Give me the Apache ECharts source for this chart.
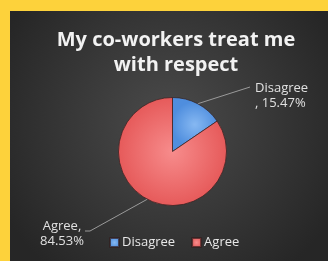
<!DOCTYPE html>
<html>
<head>
<meta charset="utf-8">
<script src="https://cdn.jsdelivr.net/npm/echarts@6/dist/echarts.min.js"></script>
<style>
  html, body { margin: 0; padding: 0; background: #fdd23b; }
  #chart { position: absolute; left: 10px; top: 11px; width: 318px; height: 250px; }
</style>
</head>
<body>
<div id="chart"></div>
<script>
var titleText = 'My co-workers treat me\nwith respect';
var categories = ['Disagree', 'Agree'];
var percents = [15.47, 84.53];
var sliceColors = [
  ['#86b8f2', '#4f8ede'],
  ['#f78c8c', '#e65a5a']
];
// where each label sits (layout only)
var labelSpots = [
  { x: 245, y: 70, align: 'left', end: [240, 76], mid: [240, 76] },
  { x: 52, y: 208, align: 'center', end: [75, 220], mid: [80, 220] }
];

var chart = echarts.init(document.getElementById('chart'));

var pieData = categories.map(function (name, i) {
  return {
    name: name,
    value: percents[i],
    itemStyle: {
      color: {
        type: 'radial', x: 0.5, y: 0.5, r: 0.5,
        colorStops: [
          { offset: 0, color: sliceColors[i][0] },
          { offset: 1, color: sliceColors[i][1] }
        ]
      }
    }
  };
});

var option = {
  backgroundColor: {
    type: 'radial', x: 0.5, y: 0.45, r: 0.75,
    colorStops: [
      { offset: 0, color: '#4b4b4b' },
      { offset: 1, color: '#262626' }
    ]
  },
  color: ['#5b9be8', '#ee6b6b'],
  title: {
    text: titleText,
    left: 161,
    top: 12,
    textAlign: 'center',
    textStyle: {
      color: '#f2f2f2',
      fontFamily: 'Open Sans',
      fontWeight: 'bold',
      fontSize: 20,
      lineHeight: 25
    }
  },
  legend: {
    data: categories,
    bottom: 7,
    left: 94,
    icon: 'rect',
    itemWidth: 9,
    itemHeight: 9,
    itemGap: 16,
    textStyle: {
      color: '#e8e8e8',
      fontFamily: 'Open Sans',
      fontSize: 13,
      padding: [0, 0, 0, -2]
    }
  },
  series: [{
    type: 'pie',
    center: [162.5, 140.5],
    radius: 54,
    startAngle: 90,
    clockwise: true,
    animation: false,
    data: pieData,
    itemStyle: {
      borderColor: 'rgba(50,30,30,0.7)',
      borderWidth: 1
    },
    label: {
      show: true,
      position: 'outside',
      color: '#e0e0e0',
      fontFamily: 'Open Sans',
      fontSize: 13,
      lineHeight: 15,
      formatter: function (p) {
        return p.dataIndex === 0
          ? p.name + '\n, ' + p.value.toFixed(2) + '%'
          : p.name + ',\n' + p.value.toFixed(2) + '%';
      }
    },
    labelLine: {
      show: true,
      lineStyle: { color: '#9a9a9a', width: 1 }
    },
    labelLayout: function (params) {
      var s = labelSpots[params.dataIndex];
      var start = params.labelLinePoints ? params.labelLinePoints[0] : s.mid;
      return {
        x: s.x,
        y: s.y,
        align: s.align,
        verticalAlign: 'top',
        labelLinePoints: [start, s.mid, s.end]
      };
    }
  }]
};

chart.setOption(option);
</script>
</body>
</html>
